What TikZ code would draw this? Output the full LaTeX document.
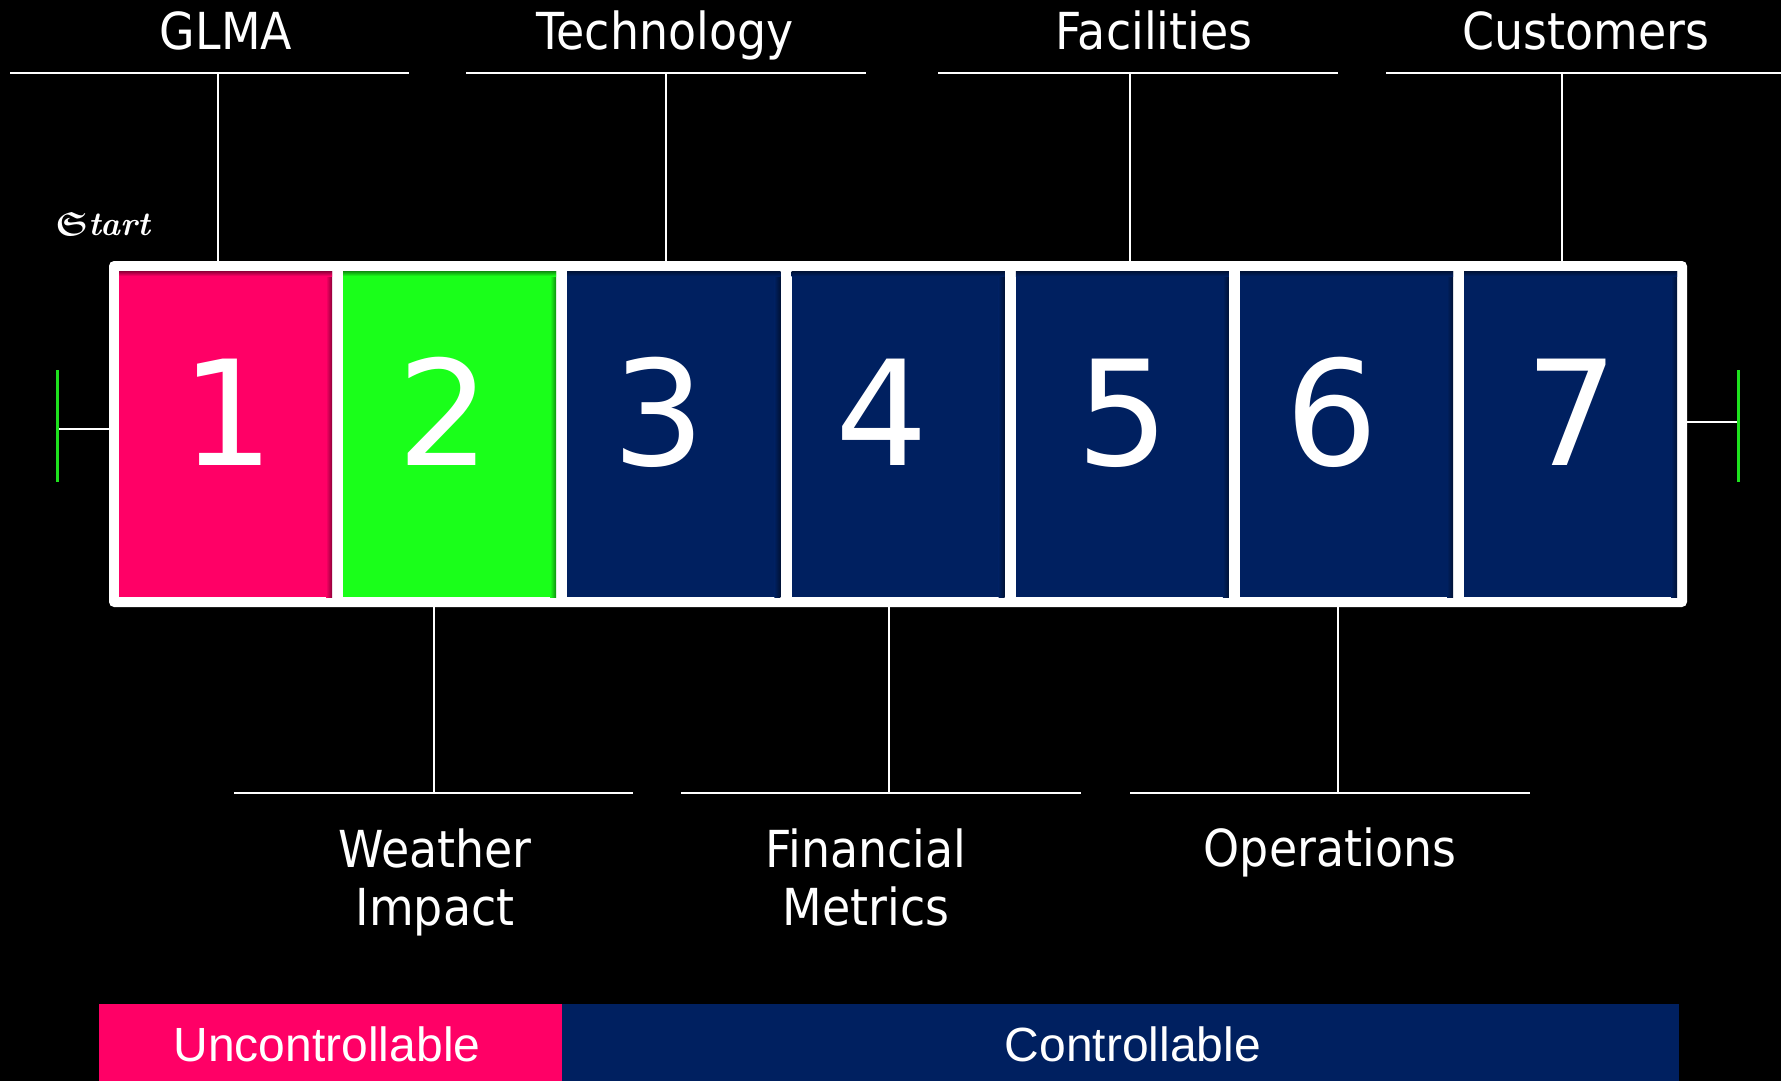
\documentclass[tikz,border=0pt]{standalone}
\usepackage{fontspec}
\usepackage{amsmath}
\usepackage{amssymb}
\newfontfamily\labelfont[FakeStretch=0.9]{DejaVu Sans}
\newfontfamily\digitfont{DejaVu Sans}
\newfontfamily\barfont{Liberation Sans}
\definecolor{cellpink}{HTML}{FF0066}
\definecolor{cellgreen}{HTML}{1AFF1A}
\definecolor{cellnavy}{HTML}{002060}
\definecolor{tickgreen}{RGB}{30,225,30}
\begin{document}
\begin{tikzpicture}[x=1pt,y=-1pt,
  cell/.style={minimum width=213pt, minimum height=326pt, inner sep=0pt, outer sep=0pt},
  digit/.style={font=\digitfont\fontsize{146}{146}\selectfont, text=white, anchor=base, inner sep=0pt},
  toplabel/.style={font=\labelfont\fontsize{51}{58}\selectfont, text=white, anchor=base, inner sep=0pt, align=center},
  barlabel/.style={font=\barfont\fontsize{48}{48}\selectfont, text=white, anchor=base, inner sep=0pt},
  bar/.style={minimum height=77pt, inner sep=0pt, outer sep=0pt},
  rule/.style={draw=white, line width=2pt},
  tickmark/.style={draw=tickgreen, line width=3pt}]

% canvas
\useasboundingbox (0,0) rectangle (1781,1081);
\fill[black] (0,0) rectangle (1781,1081);

% white frame holding the seven steps
\node[fill=white, rounded corners=5pt, minimum width=1578pt, minimum height=346pt,
      inner sep=0pt, outer sep=0pt] (frame) at (898,434) {};

% step cells with a soft inner shadow on the top and right edges
\foreach \i/\col in {1/cellpink,2/cellgreen,3/cellnavy,4/cellnavy,5/cellnavy,6/cellnavy,7/cellnavy}{
  \node[cell, fill=\col] (c\i) at ({225.5+(\i-1)*224.2},434) {};
  \shade[left color=\col, right color=\col!55!black]
    ([xshift=-6pt]c\i.north east) rectangle (c\i.south east);
  \shade[top color=\col!55!black, bottom color=\col]
    (c\i.north west) rectangle ([yshift=-5pt]c\i.north east);
}

% step numbers
\node[digit] (d1) at (228,465) {1};
\node[digit] (d2) at (444,465) {2};
\node[digit] (d3) at (659,465) {3};
\node[digit] (d4) at (882,465) {4};
\node[digit] (d5) at (1123,465) {5};
\node[digit] (d6) at (1332,465) {6};
\node[digit] (d7) at (1572,465) {7};

% start label
\node[anchor=base west, inner sep=0pt, text=white] (start) at (55,235)
  {\scalebox{1.35}{\fontsize{24.88}{26}\selectfont$\boldsymbol{\mathfrak{S}}$\bfseries\itshape tart}};

% end markers
\coordinate (lend) at (57,429);
\coordinate (ltop) at (57,370);
\coordinate (lbot) at (57,482);
\coordinate (rend) at (1738,422);
\coordinate (rtop) at (1738,370);
\coordinate (rbot) at (1738,482);
\draw[rule] (lend) -- (lend -| frame.west);
\draw[rule] (frame.east |- rend) -- (rend);
\draw[tickmark] (ltop) -- (lbot);
\draw[tickmark] (rtop) -- (rbot);

% upper callouts
\node[toplabel] (glma) at (226,50) {GLMA};
\node[toplabel] (tech) at (665,50) {Technology};
\node[toplabel] (faci) at (1154,50) {Facilities};
\node[toplabel] (cust) at (1586,50) {Customers};

\coordinate (u1a) at (10,73);   \coordinate (u1b) at (409,73);  \coordinate (u1m) at (218,73);
\coordinate (u2a) at (466,73);  \coordinate (u2b) at (866,73);  \coordinate (u2m) at (666,73);
\coordinate (u3a) at (938,73);  \coordinate (u3b) at (1338,73); \coordinate (u3m) at (1130,73);
\coordinate (u4a) at (1386,73); \coordinate (u4b) at (1781,73); \coordinate (u4m) at (1562,73);
\foreach \k in {1,2,3,4}{
  \draw[rule] (u\k a) -- (u\k b);
  \draw[rule] (u\k m) -- (u\k m |- frame.north);
}

% lower callouts
\coordinate (l1a) at (234,793);  \coordinate (l1b) at (633,793);  \coordinate (l1m) at (434,793);
\coordinate (l2a) at (681,793);  \coordinate (l2b) at (1081,793); \coordinate (l2m) at (889,793);
\coordinate (l3a) at (1130,793); \coordinate (l3b) at (1530,793); \coordinate (l3m) at (1338,793);
\foreach \k in {1,2,3}{
  \draw[rule] (l\k a) -- (l\k b);
  \draw[rule] (l\k m |- frame.south) -- (l\k m);
}

% two-line labels sit on the baseline of their last line
\node[toplabel] (weather) at (435,925) {Weather\\Impact};
\node[toplabel] (finance) at (866,925) {Financial\\Metrics};
\node[toplabel] (ops) at (1330,866) {Operations};

% legend bar
\node[bar, fill=cellpink, minimum width=463pt] (unc) at (330.5,1042.5) {};
\node[bar, fill=cellnavy, minimum width=1117pt] (con) at (1120.5,1042.5) {};
\node[barlabel] (unctext) at (327,1061) {Uncontrollable};
\node[barlabel] (context) at (1133,1061) {Controllable};
\end{tikzpicture}
\end{document}
